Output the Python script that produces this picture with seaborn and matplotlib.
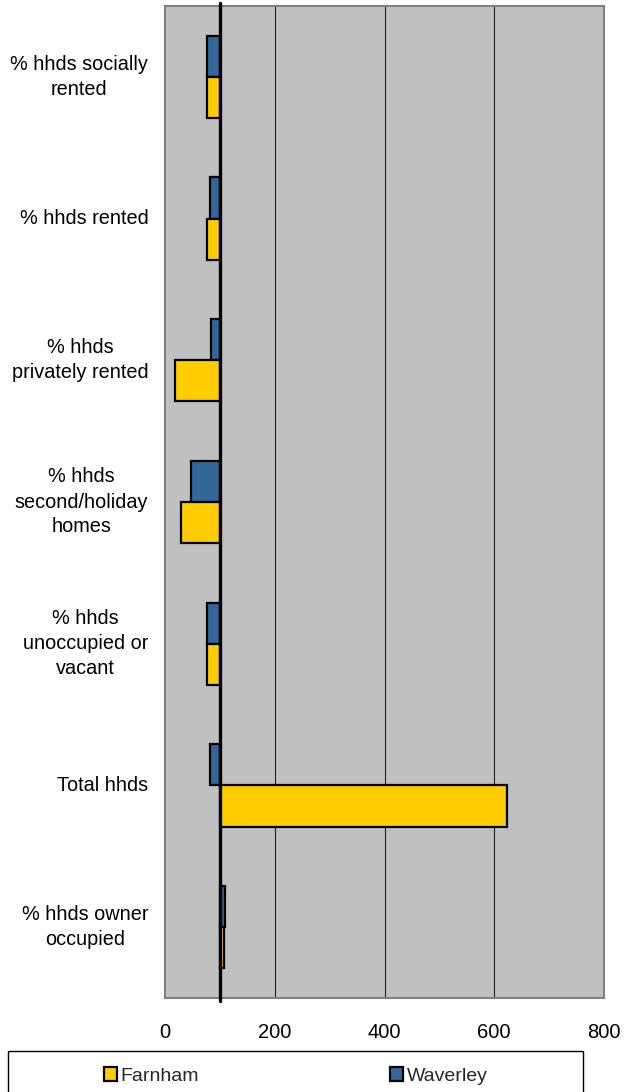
import matplotlib
matplotlib.use("Agg")
import matplotlib.pyplot as plt
import seaborn as sns
import pandas as pd
from matplotlib.patches import Patch, Rectangle

categories = [
    "% hhds socially\nrented",
    "% hhds rented",
    "% hhds\nprivately rented",
    "% hhds\nsecond/holiday\nhomes",
    "% hhds\nunoccupied or\nvacant",
    "Total hhds",
    "% hhds owner\noccupied",
]
farnham = [76, 76, 18, 30, 77, 623, 107]
waverley = [76, 82, 83, 47, 77, 82, 109]
series = ["Waverley", "Farnham"]
xticks = [0, 200, 400, 600, 800]
BASE = 100

colors = {"Farnham": "#FFCC00", "Waverley": "#336699"}

rows = []
for c, f, w in zip(categories, farnham, waverley):
    rows.append({"cat": c, "area": "Waverley", "diff": w - BASE})
    rows.append({"cat": c, "area": "Farnham", "diff": f - BASE})
df = pd.DataFrame(rows)

sns.set_theme(style="white")
plt.rcParams["font.family"] = ["Liberation Sans", "DejaVu Sans"]

fig = plt.figure(figsize=(6.25, 10.92), dpi=100)
ax = fig.add_axes([165 / 625, 1 - 998 / 1092, (604 - 165) / 625, (998 - 6) / 1092])
ax.set_facecolor("#C0C0C0")

sns.barplot(data=df, y="cat", x="diff", hue="area", hue_order=series,
            order=categories, palette=colors, saturation=1, orient="h", width=0.58,
            left=BASE, edgecolor="black", linewidth=1.6, errorbar=None,
            legend=False, ax=ax, zorder=3)

ax.set_xlim(0, 800)
ax.set_xticks(xticks)
ax.set_xticklabels([str(t) for t in xticks])
for g in [200, 400, 600]:
    ax.axvline(g, color="#222222", lw=0.8, zorder=1)
ax.axvline(BASE, color="black", lw=2.4, ymin=-0.003, ymax=1.003, clip_on=False, zorder=4)

for s in ax.spines.values():
    s.set_color("#808080")
    s.set_linewidth(1.5)
    s.set_visible(True)

ax.set_xlabel("")
ax.set_ylabel("")
ax.tick_params(axis="x", length=0, pad=18, labelsize=14.5, colors="black")
ax.tick_params(axis="y", length=0, pad=12, labelsize=14.3, colors="black")
for lab in ax.get_yticklabels():
    lab.set_multialignment("center")
    lab.set_linespacing(1.4)
    lab.set_verticalalignment("center")
ax.grid(False)

# legend
fig.patches.append(Rectangle((7.5 / 625, -0.01), (583 - 7.5) / 625, 1 - 1051 / 1092 + 0.01,
                             transform=fig.transFigure, facecolor="white",
                             edgecolor="black", lw=1.0, figure=fig))
handles = [Patch(facecolor=colors["Farnham"], edgecolor="black", lw=1.6, label="Farnham"),
           Patch(facecolor=colors["Waverley"], edgecolor="black", lw=1.6, label="Waverley")]
fig.legend(handles=handles, loc="center left", bbox_to_anchor=(104 / 625, 1 - 1076 / 1092),
           ncol=2, frameon=False, fontsize=14, handlelength=0.67, handleheight=0.67,
           handletextpad=0.19, columnspacing=9.8, borderpad=0, borderaxespad=0)

fig.savefig("out.png", dpi=100)
